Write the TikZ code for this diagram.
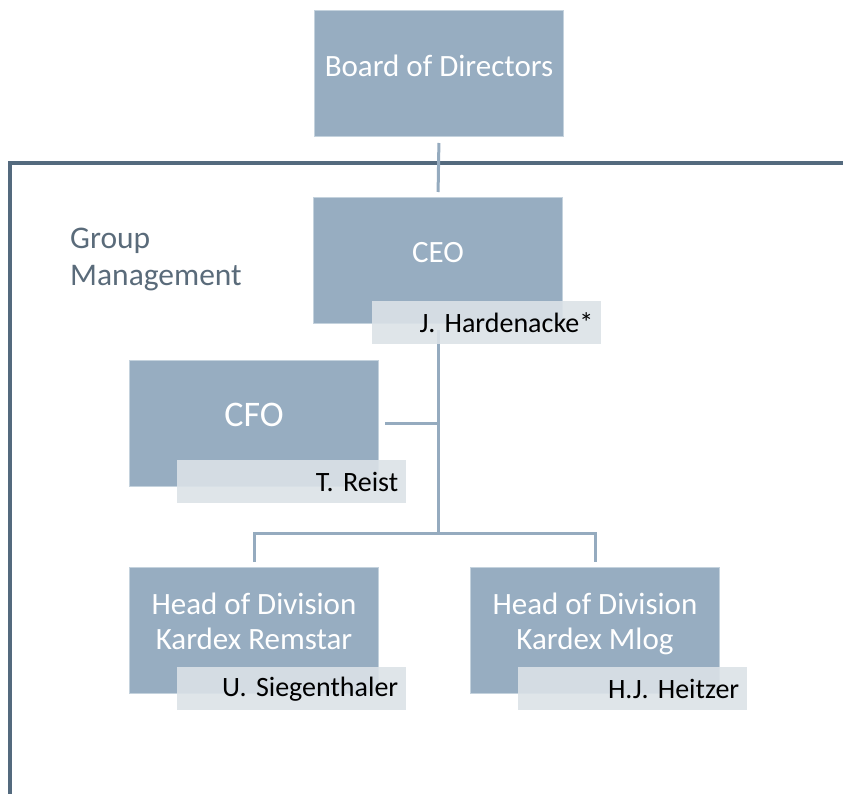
\documentclass[tikz,border=0pt]{standalone}
\usepackage{fontspec}
\setmainfont{Carlito}
\definecolor{boxblue}{RGB}{151,173,193}
\definecolor{boxedge}{RGB}{196,210,221}
\definecolor{namefill}{RGB}{219,226,231}
\definecolor{framec}{RGB}{84,106,126}
\definecolor{connc}{RGB}{149,171,191}
\definecolor{grptext}{RGB}{90,107,122}
\begin{document}
\begin{tikzpicture}[x=1pt,y=-1pt,
  rolebox/.style={draw=boxedge, line width=1pt, fill=boxblue, anchor=north west,
    minimum width=249pt, minimum height=126pt, inner sep=0pt},
  roletext/.style={text=white, font=\fontsize{31}{35}\selectfont, align=center, inner sep=0pt},
  namebox/.style={fill=namefill, fill opacity=0.9, text opacity=1, anchor=north west,
    minimum width=229pt, minimum height=43pt, text width=213pt, inner xsep=8pt, inner ysep=0pt,
    align=right, font=\fontsize{28}{32}\selectfont\frenchspacing, text=black},
  conn/.style={draw=connc, line width=3pt},
  framel/.style={draw=framec, line width=4pt}
]
\useasboundingbox (0,0) rectangle (843,794);
% frame
\draw[framel] (845,163) -- (10,163) -- (10,796);
\node[text=grptext, font=\fontsize{31.5}{37}\selectfont, align=left, anchor=north west, inner sep=0pt] (grp) at (70,228) {Group\\Management};

% boxes
\node[rolebox] (bod) at (314,10) {};
\node[rolebox] (ceo) at (313,197) {};
\node[rolebox] (cfo) at (129,360) {};
\node[rolebox] (lh) at (129,567) {};
\node[rolebox] (rh) at (470,567) {};

\node[roletext] (bodt) at ([yshift=8pt]bod.center) {Board of Directors};
\node[roletext] (ceot) at ([yshift=8pt]ceo.center) {CEO};
\node[roletext, font=\fontsize{36}{40}\selectfont] (cfot) at ([yshift=9pt]cfo.center) {CFO};
\node[roletext] (lht) at ([yshift=9pt]lh.center) {Head of Division\\Kardex Remstar};
\node[roletext] (rht) at ([yshift=7pt]rh.center) {Head of Division\\Kardex Mlog};

% connectors
\coordinate (br) at (438,533);
\draw[conn, shorten <=6pt, shorten >=5pt] (bod.south) -- (ceo.north);
\draw[conn, shorten <=6pt] (ceo.south) -- (br);
\draw[conn, shorten <=6pt] (cfo.east) -- (cfo.east -| br);
\draw[conn, shorten <=5pt, shorten >=5pt] (lh.north) -- ++(0,-34) -| (rh.north);

% name boxes
\node[namebox] (ceon) at (372,301) {J. Hardenacke*};
\node[namebox] (cfon) at (177,460) {T. Reist};
\node[namebox] (lhn) at (177,667) {U. Siegenthaler};
\node[namebox] (rhn) at (518,667) {H.J. Heitzer};
\end{tikzpicture}
\end{document}
